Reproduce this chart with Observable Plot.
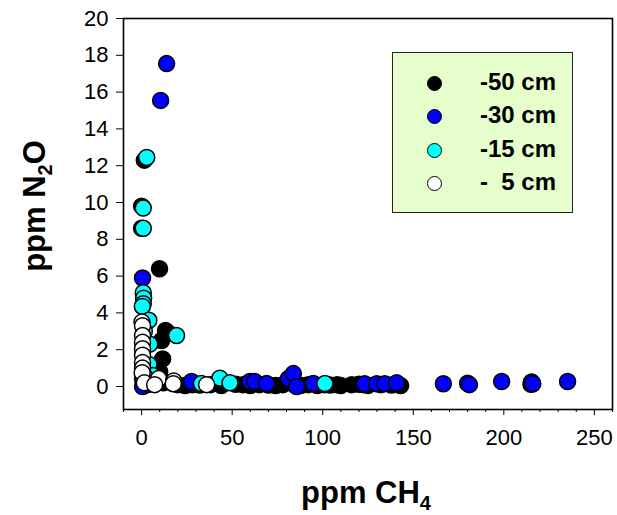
<!DOCTYPE html>
<html><head><meta charset="utf-8">
<script src="https://cdn.jsdelivr.net/npm/d3@7"></script>
<script src="https://cdn.jsdelivr.net/npm/@observablehq/plot@0.6"></script>
<style>
body{margin:0;background:#fff;}
#wrap{position:relative;width:617px;height:515px;font-family:"Liberation Sans",Arial,sans-serif;}
#legend{position:absolute;left:392px;top:52px;width:181px;height:161px;background:#e6fdcc;border:1.5px solid #222;box-sizing:border-box;}
.row{position:absolute;left:0;height:24px;width:100%;}
.sym{position:absolute;left:34px;top:4px;width:13px;height:13px;border:1.5px solid #000;border-radius:50%;}
.lab{position:absolute;left:87px;top:-2px;font-weight:bold;font-size:24px;line-height:24px;white-space:pre;color:#000;}
</style></head>
<body><div id="wrap"></div>
<script>
const seriesNames = ["-50 cm", "-30 cm", "-15 cm", "-  5 cm"];
const seriesColors = ["#000000", "#0000ff", "#00ffff", "#ffffff"];

const ch4_50 = [9.9, 1.5, 0.0, 0.0, 13.2, 14.9, 11.0, 11.6, 10.0, 8.3, 1.0, 3.0, 6.0, 12.0, 20, 24, 28, 32, 38, 44, 52, 56, 60, 65, 70, 74, 78, 84, 88, 92, 97, 101, 104, 108, 110, 116, 120, 125, 132, 138, 143, 215];
const n2o_50 = [6.4, 12.3, 9.8, 8.6, 3.05, 2.9, 2.5, 1.5, 0.8, 0.3, 0.05, 0.1, 0.15, 0.2, 0.1, 0.05, 0.1, 0.08, 0.1, 0.05, 0.12, 0.1, 0.05, 0.1, 0.08, 0.05, 0.1, 0.12, 0.06, 0.1, 0.05, 0.1, 0.08, 0.1, 0.05, 0.1, 0.12, 0.06, 0.1, 0.08, 0.05, 0.12];

const ch4_30 = [13.8, 10.5, 0.5, 0.5, 27.6, 59.8, 62.4, 69, 81, 83.8, 85.6, 94.8, 122.4, 123.1, 129.8, 134.2, 140.8, 166.6, 180, 181, 198.8, 215.3, 216, 235.2];
const n2o_30 = [17.55, 15.55, 5.9, 0.0, 0.27, 0.27, 0.27, 0.16, 0.43, 0.7, 0.0, 0.16, 0.1, 0.15, 0.15, 0.15, 0.2, 0.15, 0.18, 0.1, 0.27, 0.25, 0.15, 0.27];

const ch4_15 = [2.8, 0.9, 0.9, 0.9, 1.1, 0.9, 0.4, 19.3, 4.0, 4.5, 4.0, 6.0, 9.0, 33.0, 43.2, 48.8, 101.2, 2.0, 1.5];
const n2o_15 = [12.45, 9.7, 8.6, 5.1, 4.8, 4.5, 4.35, 2.77, 3.6, 2.3, 1.2, 0.6, 0.3, 0.16, 0.45, 0.2, 0.16, 0.5, 3.0];

const ch4_5 = [0.2, 0.5, 0.5, 0.5, 0.5, 0.5, 0.5, 0.5, 0.5, 0.8, 0.3, 1.5, 9.4, 7.2, 17.7, 17.5, 35.9];
const n2o_5 = [3.5, 3.3, 2.77, 2.4, 2.05, 1.7, 1.3, 1.0, 0.43, 0.33, 0.75, 0.2, 0.43, 0.1, 0.3, 0.15, 0.1];

const xMajor = [0, 50, 100, 150, 200, 250];
const xMinor = d3.range(-10, 261, 10).filter(v => v % 50 !== 0);
const yTicks = [0, 2, 4, 6, 8, 10, 12, 14, 16, 18, 20];

const seriesX = [ch4_50, ch4_30, ch4_15, ch4_5];
const seriesY = [n2o_50, n2o_30, n2o_15, n2o_5];
const rows = [];
seriesX.forEach((xs, s) => xs.forEach((x, i) => rows.push({x, y: seriesY[s][i], s: seriesNames[s]})));

const chart = Plot.plot({
  width: 617, height: 515,
  marginLeft: 123, marginRight: 5, marginTop: 18, marginBottom: 106,
  style: {fontFamily: "'Liberation Sans', Arial, sans-serif", fontSize: "22px", color: "#000", background: "#fff"},
  x: {domain: [-10, 260]},
  y: {domain: [-1.25, 20]},
  color: {domain: seriesNames, range: seriesColors},
  marks: [
    Plot.axisY({ticks: yTicks, tickSize: 7, tickPadding: 8, label: null, fontSize: 22}),
    Plot.axisX({ticks: xMajor, tickSize: 6, tickPadding: 14, label: null, fontSize: 22}),
    Plot.axisX({ticks: xMinor, tickSize: 3, tickFormat: () => "", label: null}),
    Plot.dot(rows, {x: "x", y: "y", fill: "s", stroke: "#000", strokeWidth: 1.5, r: 8}),
    Plot.frame({stroke: "#000", strokeWidth: 1.6})
  ]
});

const svg = d3.select(chart);
const xt = svg.append("text").attr("x", 366).attr("y", 503).attr("text-anchor", "middle")
  .attr("font-weight", "bold").attr("font-size", 31).attr("fill", "#000");
xt.append("tspan").text("ppm CH");
xt.append("tspan").attr("font-size", 20).attr("dy", 7).text("4");

const yt = svg.append("text").attr("transform", "translate(45,206) rotate(-90)").attr("text-anchor", "middle")
  .attr("font-weight", "bold").attr("font-size", 31).attr("fill", "#000");
yt.append("tspan").text("ppm N");
yt.append("tspan").attr("font-size", 20).attr("dy", 7).text("2");
yt.append("tspan").attr("dy", -7).text("O");

const wrap = document.getElementById("wrap");
wrap.appendChild(chart);

const legend = document.createElement("div");
legend.id = "legend";
seriesNames.forEach((name, i) => {
  const row = document.createElement("div");
  row.className = "row";
  row.style.top = (19 + i * 33.3) + "px";
  const sym = document.createElement("span");
  sym.className = "sym";
  sym.style.background = seriesColors[i];
  const lab = document.createElement("span");
  lab.className = "lab";
  lab.textContent = name;
  row.appendChild(sym); row.appendChild(lab);
  legend.appendChild(row);
});
wrap.appendChild(legend);
</script></body></html>
